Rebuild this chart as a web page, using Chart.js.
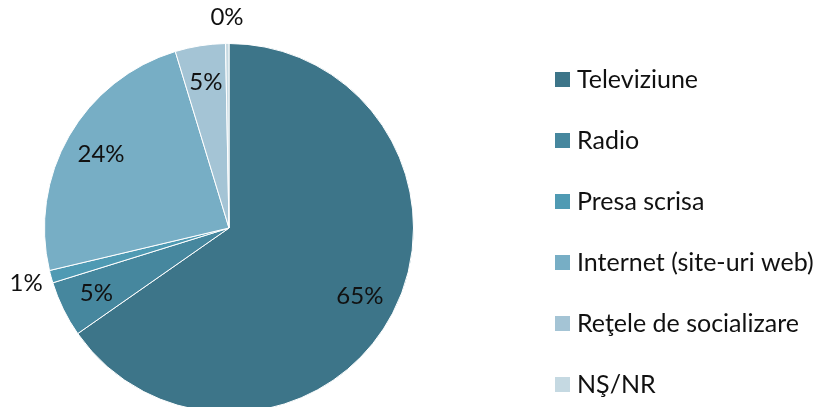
<!DOCTYPE html>
<html>
<head>
<meta charset="utf-8">
<script src="https://cdn.jsdelivr.net/npm/chart.js@4"></script>
<style>
  html, body { margin: 0; padding: 0; background: #fff; overflow: hidden; }
  #wrap { width: 815px; height: 420px; position: relative; }
</style>
</head>
<body>
<div id="wrap"><canvas id="pieChart"></canvas></div>
<script>
const categories = ["Televiziune", "Radio", "Presa scrisa", "Internet (site-uri web)", "Reţele de socializare", "NŞ/NR"];
const shares = [65.3, 4.9, 1.1, 24.0, 4.4, 0.3];
const shareLabels = ["65%", "5%", "1%", "24%", "5%", "0%"];
const sliceColors = ["#3d7589", "#46879e", "#4f9ab3", "#77aec5", "#a4c4d5", "#c5d9e2"];

const FONT = "Lato, 'Open Sans', sans-serif";

// percentage labels: inside for big slices, just outside for tiny ones
const sliceLabels = {
    id: "sliceLabels",
    afterDatasetsDraw(chart) {
        const ctx = chart.ctx;
        const arcs = chart.getDatasetMeta(0).data;
        ctx.save();
        ctx.font = "24px " + FONT;
        ctx.fillStyle = "#111";
        ctx.textAlign = "center";
        ctx.textBaseline = "middle";
        arcs.forEach((arc, i) => {
            const p = arc.getProps(["x", "y", "startAngle", "endAngle", "outerRadius"], true);
            const mid = (p.startAngle + p.endAngle) / 2;
            const f = shares[i] < 2 ? 1.14 : 0.8;
            const x = p.x + Math.cos(mid) * p.outerRadius * f;
            const y = p.y + Math.sin(mid) * p.outerRadius * f;
            ctx.fillText(shareLabels[i], x, y);
        });
        ctx.restore();
    }
};

// legend on the right, one row every 61px
const sideLegend = {
    id: "sideLegend",
    afterDraw(chart) {
        const ctx = chart.ctx;
        ctx.save();
        ctx.font = "25px " + FONT;
        ctx.textBaseline = "middle";
        categories.forEach((name, i) => {
            const cy = 79 + i * 61;
            ctx.fillStyle = sliceColors[i];
            ctx.fillRect(555, cy - 7, 15, 15);
            ctx.fillStyle = "#111";
            ctx.fillText(name, 577, cy + 1);
        });
        ctx.restore();
    }
};

new Chart("pieChart", {
    type: "pie",
    data: {
        labels: categories,
        datasets: [{
            data: shares,
            backgroundColor: sliceColors,
            borderColor: "#ffffff",
            borderWidth: 1
        }]
    },
    options: {
        responsive: true,
        maintainAspectRatio: false,
        animation: false,
        layout: { padding: { left: 44, top: 43, right: 401, bottom: 7 } },
        plugins: {
            legend: { display: false },
            tooltip: { enabled: false }
        }
    },
    plugins: [sliceLabels, sideLegend]
});
</script>
</body>
</html>
